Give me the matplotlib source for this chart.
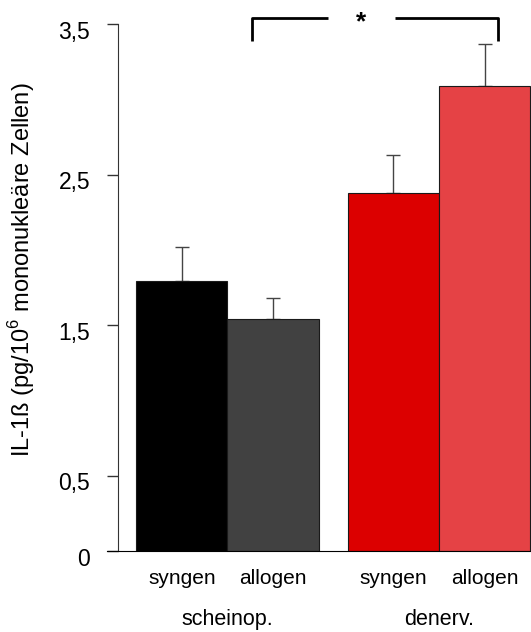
"""
IL-1b balkendiagramm (scheinop. / denerv.)
"""

import matplotlib
matplotlib.use("Agg")
from matplotlib import pyplot as plt
from matplotlib.transforms import ScaledTranslation

plt.rcParams['font.family'] = ['Liberation Sans', 'DejaVu Sans']
plt.rcParams['mathtext.fontset'] = 'custom'
plt.rcParams['mathtext.rm'] = 'Liberation Sans'

# daten
gruppen = ["scheinop.", "denerv."]
kategorien = ["syngen", "allogen", "syngen", "allogen"]
werte = [1.79, 1.54, 2.375, 3.09]
fehler = [0.23, 0.14, 0.255, 0.28]
farben = ["#000000", "#414141", "#dc0000", "#e54245"]
positionen = [0, 1, 2.32, 3.32]
yticks = [0, 0.5, 1.5, 2.5, 3.5]
ytick_labels = ["0", "0,5", "1,5", "2,5", "3,5"]


if __name__ == '__main__':
    fig = plt.figure(figsize=(5.31, 6.32), dpi=100)
    ax = fig.add_axes([118/531, 81/632, 1 - 118/531, 527/632])

    ax.bar(positionen, werte, width=1.0, color=farben,
           edgecolor="#1a1a1a", linewidth=0.8, zorder=2)
    ax.errorbar(positionen, werte, yerr=[[0]*4, fehler], fmt='none',
                ecolor="#444444", elinewidth=1.0, capsize=5, capthick=1.0,
                zorder=1)

    ax.set_xlim(-0.70, 3.83)
    ax.set_ylim(0, 3.5)
    ax.spines['top'].set_visible(False)
    ax.spines['right'].set_visible(False)
    ax.spines['left'].set_color("#333333")
    ax.spines['bottom'].set_bounds(-0.82, 3.83)

    ax.set_yticks(yticks)
    ax.set_yticklabels(ytick_labels, fontsize=16.5)
    ax.tick_params(axis='y', length=8, width=1, color="#333333", pad=12)
    for lab in ax.get_yticklabels():
        lab.set_transform(lab.get_transform() + ScaledTranslation(0, -4/72, fig.dpi_scale_trans))

    ax.set_xticks(positionen)
    ax.set_xticklabels(kategorien, fontsize=15)
    ax.tick_params(axis='x', length=0, pad=13)

    # gruppenbeschriftung
    for i, g in enumerate(gruppen):
        xm = (positionen[2*i] + positionen[2*i + 1]) / 2
        ax.text(xm, -0.455, g, fontsize=15.5, ha='center', va='center')

    # signifikanz klammer
    ax.plot([0.77, 0.77, 1.60], [3.39, 3.54, 3.54], color='black', lw=2,
            clip_on=False, solid_capstyle='butt')
    ax.plot([2.34, 3.47, 3.47], [3.54, 3.54, 3.39], color='black', lw=2,
            clip_on=False, solid_capstyle='butt')
    ax.text(1.97, 3.51, "*", fontsize=19, fontweight='bold', ha='center',
            va='center', clip_on=False)

    fig.text(22/531, 1 - 270/632, r"IL-1ß (pg/10$^{\mathregular{6}}$ mononukleäre Zellen)",
             rotation=90, ha='center', va='center', fontsize=17)

    plt.savefig("out.png", dpi=100)
